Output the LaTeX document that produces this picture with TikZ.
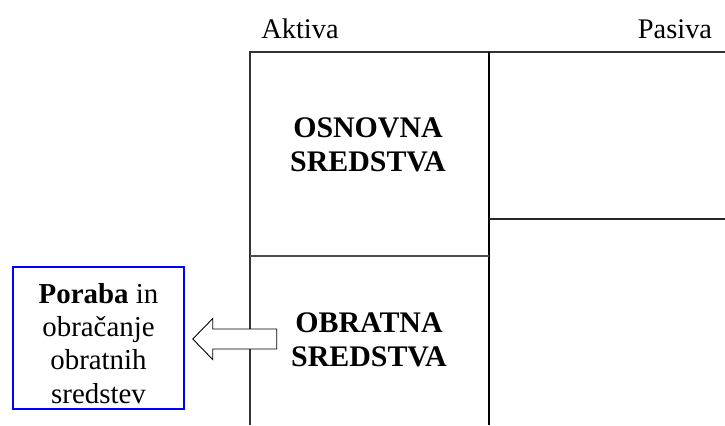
\documentclass[tikz,border=0pt]{standalone}
\usepackage{fontspec}
\setmainfont{Liberation Serif}
\usepackage{tikz}
\usetikzlibrary{arrows.meta,calc,positioning}

\begin{document}
\begin{tikzpicture}[x=1bp, y=-1bp,
    lbl/.style={font=\fontsize{28.5}{33}\selectfont, inner sep=0pt, align=center},
    part/.style={lbl, font=\fontsize{30}{34}\selectfont\bfseries}]
  \useasboundingbox (0,0) rectangle (725,425);
  \coordinate (TL) at (250,52);
  \coordinate (TM) at (489,52);
  \coordinate (TR) at (725,52);
  \coordinate (BL) at (250,425);
  \coordinate (BM) at (489,425);
  \coordinate (ML) at (250,256);
  \coordinate (MM) at (489,256);
  \coordinate (PM) at (489,219);
  \coordinate (PR) at (725,219);

  % Balance sheet
  \draw[line width=1.2pt, black!80] (BL) -- (TL) -- (TR);
  \draw[line width=1.6pt] (TM) -- (BM);
  \draw[line width=1.2pt, black!70] (ML) -- (MM);
  \draw[line width=1.2pt, black!85] (PM) -- (PR);

  % Headings
  \node[lbl, anchor=base] (aktiva) at (300,38) {Aktiva};
  \node[lbl, anchor=base] (pasiva) at (675,38) {Pasiva};

  % Assets
  \node[part] (osnovna) at (368,145) {OSNOVNA\\SREDSTVA};
  \node[part] (obratna) at (369,339.5) {OBRATNA\\SREDSTVA};

  % Use of current assets
  \node[lbl, draw=blue, line width=1.5pt, minimum width=171bp, minimum height=142bp,
        text height=130bp, text depth=0pt,
        font=\fontsize{29}{33.2}\selectfont] (poraba) at (98.5,338)
        {\textbf{Poraba} in\\obračanje\\obratnih\\sredstev};

  \coordinate (tip) at ($(poraba.east)+(8,1)$);
  \draw[line width=0.9pt, fill=white]
    (tip) -- ++(20,-20.5) -- ++(0,10.5) -- ++(64,0) -- ++(0,20)
    -- ++(-64,0) -- ++(0,10.5) -- cycle;
\end{tikzpicture}
\end{document}
